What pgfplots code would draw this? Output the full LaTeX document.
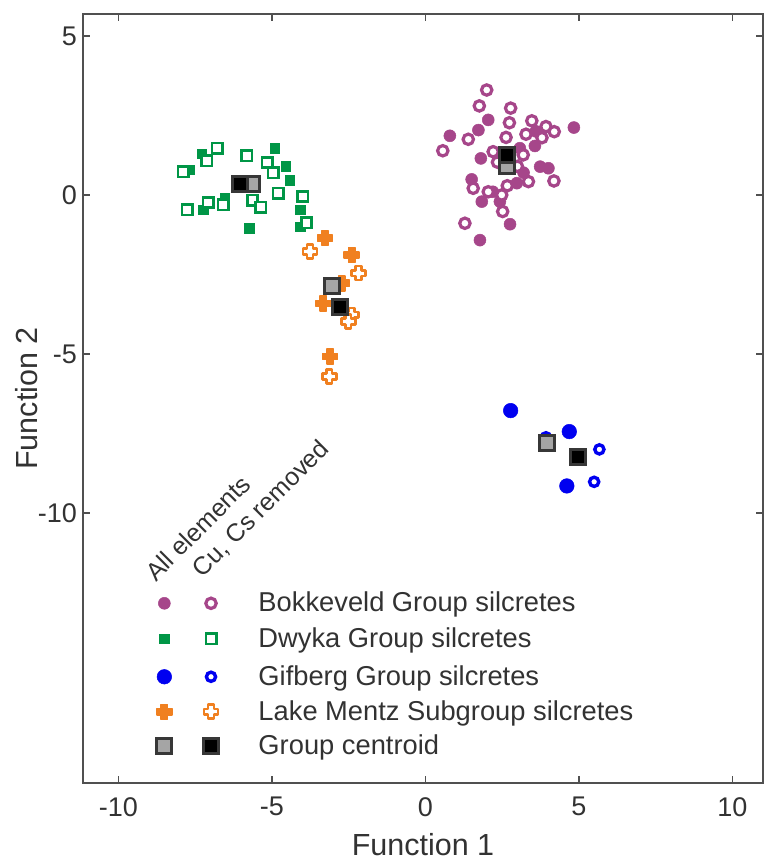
\documentclass[border=0pt]{standalone}
\usepackage{pgfplots}
\pgfplotsset{compat=1.18}
\usepackage{fontspec}
\setmainfont{Liberation Sans}
\definecolor{bok}{RGB}{166,70,138}
\definecolor{dwy}{RGB}{0,150,70}
\definecolor{gif}{RGB}{0,0,240}
\definecolor{lmz}{RGB}{240,128,32}
\definecolor{axc}{RGB}{80,80,80}
\definecolor{txt}{RGB}{50,50,50}
\definecolor{cgray}{RGB}{165,165,165}
\definecolor{cedge}{RGB}{55,55,55}
\pgfdeclareplotmark{gplus}{%
  \pgfpathmoveto{\pgfpoint{-0.42\pgfplotmarksize}{\pgfplotmarksize}}%
  \pgfpathlineto{\pgfpoint{0.42\pgfplotmarksize}{\pgfplotmarksize}}%
  \pgfpathlineto{\pgfpoint{0.42\pgfplotmarksize}{0.42\pgfplotmarksize}}%
  \pgfpathlineto{\pgfpoint{\pgfplotmarksize}{0.42\pgfplotmarksize}}%
  \pgfpathlineto{\pgfpoint{\pgfplotmarksize}{-0.42\pgfplotmarksize}}%
  \pgfpathlineto{\pgfpoint{0.42\pgfplotmarksize}{-0.42\pgfplotmarksize}}%
  \pgfpathlineto{\pgfpoint{0.42\pgfplotmarksize}{-\pgfplotmarksize}}%
  \pgfpathlineto{\pgfpoint{-0.42\pgfplotmarksize}{-\pgfplotmarksize}}%
  \pgfpathlineto{\pgfpoint{-0.42\pgfplotmarksize}{-0.42\pgfplotmarksize}}%
  \pgfpathlineto{\pgfpoint{-\pgfplotmarksize}{-0.42\pgfplotmarksize}}%
  \pgfpathlineto{\pgfpoint{-\pgfplotmarksize}{0.42\pgfplotmarksize}}%
  \pgfpathlineto{\pgfpoint{-0.42\pgfplotmarksize}{0.42\pgfplotmarksize}}%
  \pgfpathclose
  \pgfusepathqfillstroke}
\pgfplotsset{
  bokF/.style={only marks, mark=*, mark size=6pt, mark options={fill=bok, draw=bok, line width=0.5pt}},
  bokO/.style={only marks, mark=*, mark size=5.2pt, mark options={fill=white, draw=bok, line width=3.2pt}},
  dwyF/.style={only marks, mark=square*, mark size=4.8pt, mark options={fill=dwy, draw=dwy, line width=0.5pt}},
  dwyO/.style={only marks, mark=square*, mark size=5.2pt, mark options={fill=white, draw=dwy, line width=2.6pt}},
  gifF/.style={only marks, mark=*, mark size=7.3pt, mark options={fill=gif, draw=gif, line width=0.5pt}},
  gifO/.style={only marks, mark=*, mark size=4.6pt, mark options={fill=white, draw=gif, line width=3.4pt}},
  lmzF/.style={only marks, mark=gplus, mark size=7.5pt, mark options={fill=lmz, draw=lmz, line width=1.5pt, line join=round}},
  lmzO/.style={only marks, mark=gplus, mark size=7pt, mark options={fill=white, draw=lmz, line width=2.6pt, line join=round}},
  cenA/.style={only marks, mark=square*, mark size=7.5pt, mark options={fill=cgray, draw=cedge, line width=3pt}},
  cenR/.style={only marks, mark=square*, mark size=7.5pt, mark options={fill=black, draw=cedge, line width=3pt}},
}
\begin{document}
\begin{tikzpicture}
\useasboundingbox (-83pt,-80pt) rectangle (682pt,783pt);
\begin{axis}[
  at={(0,0)}, anchor=south west,
  scale only axis, width=680pt, height=769pt,
  xmin=-11.15, xmax=11.0, ymin=-18.49, ymax=5.69,
  xtick={-10,-5,0,5,10}, ytick={-10,-5,0,5},
  tick align=inside, major tick length=7pt,
  axis line style={draw=axc, line width=1.6pt},
  every tick/.style={draw=axc, line width=1.6pt},
  /pgf/number format/assume math mode=true,
  ticklabel style={font=\fontsize{27}{30}\selectfont, text=txt, inner sep=0pt},
  xticklabel style={anchor=north, yshift=-14pt},
  yticklabel style={anchor=east, xshift=-6pt},
  xlabel={Function 1}, ylabel={Function 2},
  label style={font=\fontsize{30.5}{34}\selectfont, text=txt},
  xlabel style={at={(axis description cs:0.5,0)}, anchor=base, yshift=-72pt},
  ylabel style={at={(axis description cs:0,0.5)}, anchor=base, yshift=45pt},
  clip=false,
]
% Bokkeveld filled
\addplot[bokF] coordinates {
(2.05,2.36) (1.73,2.04) (0.80,1.86) (4.84,2.12) (3.57,1.54) (3.08,1.47)
(1.81,1.15) (3.74,0.89) (4.01,0.84) (1.51,0.49) (2.98,0.37) (1.84,-0.21)
(2.43,-0.21) (2.76,-0.92) (1.78,-1.42) (3.20,0.70) (3.60,2.00) (2.20,0.10)
};
% Bokkeveld open
\addplot[bokO] coordinates {
(2.00,3.30) (1.76,2.80) (2.78,2.73) (2.74,2.27) (3.47,2.33) (3.93,2.15)
(4.20,1.99) (3.28,1.91) (1.40,1.75) (2.63,1.81) (0.57,1.39) (2.21,1.36)
(3.19,1.26) (2.35,1.03) (4.19,0.44) (3.36,0.42) (2.67,0.29) (1.56,0.21)
(2.05,0.10) (2.49,0.00) (2.52,-0.52) (1.29,-0.89) (3.00,0.90) (3.80,1.80)
};
% Dwyka filled
\addplot[dwyF] coordinates {
(-7.67,0.79) (-7.28,1.29) (-4.90,1.47) (-4.54,0.91) (-4.41,0.47) (-7.23,-0.47)
(-6.53,-0.11) (-5.73,-1.05) (-4.08,-0.47) (-4.08,-1.00) (-5.00,0.73)
};
% Dwyka open
\addplot[dwyO] coordinates {
(-7.89,0.73) (-7.12,1.08) (-6.78,1.47) (-5.82,1.23) (-5.15,1.02) (-4.95,0.70)
(-4.79,0.05) (-3.99,-0.05) (-5.63,-0.16) (-5.36,-0.39) (-7.75,-0.47) (-7.07,-0.24)
(-6.58,-0.31) (-3.87,-0.87)
};
% Gifberg
\addplot[gifF] coordinates {(2.78,-6.78) (4.69,-7.44) (4.61,-9.15)};
\addplot[gifO] coordinates {(3.93,-7.62) (5.67,-8.00) (5.50,-9.02)};
% Lake Mentz
\addplot[lmzF] coordinates {(-3.27,-1.36) (-2.40,-1.89) (-2.72,-2.78) (-3.32,-3.41) (-3.10,-5.08)};
\addplot[lmzO] coordinates {(-3.76,-1.78) (-2.18,-2.46) (-2.40,-3.77) (-2.51,-3.98) (-3.13,-5.71)};
% centroids
\addplot[cenA] coordinates {(2.67,0.92) (-5.63,0.35) (-3.05,-2.86) (3.97,-7.81)};
\addplot[cenR] coordinates {(2.67,1.26) (-6.04,0.35) (-2.78,-3.53) (4.99,-8.23)};
% legend markers
\addplot[bokF] coordinates {(-8.50,-12.84)};
\addplot[bokO] coordinates {(-6.98,-12.84)};
\addplot[dwyF] coordinates {(-8.50,-13.96)};
\addplot[dwyO] coordinates {(-6.98,-13.96)};
\addplot[gifF] coordinates {(-8.50,-15.15)};
\addplot[gifO] coordinates {(-6.98,-15.15)};
\addplot[lmzF] coordinates {(-8.50,-16.25)};
\addplot[lmzO] coordinates {(-6.98,-16.25)};
\addplot[cenA] coordinates {(-8.50,-17.33)};
\addplot[cenR] coordinates {(-6.98,-17.33)};
% legend text
\begin{scope}[every node/.style={font=\fontsize{27.3}{30}\selectfont, text=txt, anchor=base west, inner sep=0pt}]
\node at (axis cs:-5.44,-13.10) {Bokkeveld Group silcretes};
\node at (axis cs:-5.44,-14.22) {Dwyka Group silcretes};
\node at (axis cs:-5.44,-15.41) {Gifberg Group silcretes};
\node at (axis cs:-5.44,-16.51) {Lake Mentz Subgroup silcretes};
\node at (axis cs:-5.44,-17.59) {Group centroid};
\end{scope}
\begin{scope}[every node/.style={font=\fontsize{25}{28}\selectfont, text=txt, anchor=base west, inner sep=0pt, rotate=45}]
\node at (axis cs:-8.77,-12.19) {All elements};
\node at (axis cs:-7.25,-12.05) {Cu, Cs removed};
\end{scope}
\end{axis}
\end{tikzpicture}
\end{document}
